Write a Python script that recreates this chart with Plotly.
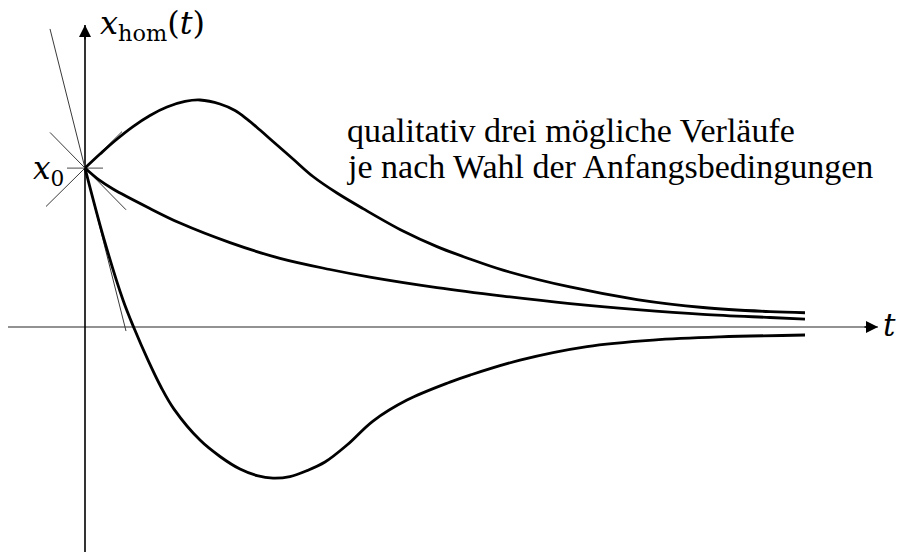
import plotly.graph_objects as go

# Three qualitative solution curves x_hom(t) starting at x0 = 1
t_upper = [0.0, 0.15, 0.30, 0.48, 0.65, 0.82, 1.00, 1.15, 1.35, 1.50, 1.62, 1.75, 1.88, 2.08, 2.28,
           2.52, 2.78, 3.18, 3.52, 3.85, 4.18, 4.85, 5.52, 6.18, 6.85, 7.20]
x_upper = [1.0, 1.088, 1.172, 1.261, 1.331, 1.384, 1.419, 1.428, 1.403, 1.362, 1.308, 1.239, 1.167, 1.057, 0.947,
           0.843, 0.745, 0.604, 0.506, 0.428, 0.358, 0.252, 0.173, 0.123, 0.097, 0.090]

t_middle = [0.0, 0.14, 0.28, 0.62, 0.95, 1.45, 1.95, 2.45, 2.85, 3.52, 4.18, 4.85, 5.52, 6.18, 6.85, 7.20]
x_middle = [1.0, 0.925, 0.868, 0.755, 0.654, 0.531, 0.432, 0.362, 0.314, 0.248, 0.195, 0.148, 0.110, 0.080, 0.060, 0.050]

t_lower = [0.0, 0.19, 0.38, 0.49, 0.63, 0.76, 0.89, 1.15, 1.35, 1.55, 1.72, 1.88, 2.05, 2.22, 2.40, 2.62,
           2.88, 3.22, 3.65, 3.85, 4.35, 5.02, 5.68, 6.35, 7.20]
x_lower = [1.0, 0.553, 0.170, -0.006, -0.208, -0.377, -0.516, -0.711, -0.814, -0.893, -0.934, -0.950, -0.940,
           -0.903, -0.849, -0.742, -0.591, -0.459, -0.346, -0.302, -0.208, -0.123, -0.082, -0.062, -0.050]

# Initial value and slopes of the tangent lines through (0, x0)
x0 = 1.0
tangent_slopes = [-2.50, 0.62, -0.64]
tangent_t_range = [[-0.35, 0.41], [-0.39, 0.37], [-0.35, 0.41]]

# Axis extents
t_axis = [-0.77, 7.93]
x_axis = [-1.415, 1.899]

fig = go.Figure()

# horizontal t axis (grey) and vertical axis (black)
fig.add_trace(go.Scatter(x=t_axis, y=[0, 0], mode="lines",
                         line=dict(color="#6e6e6e", width=1.5), hoverinfo="skip"))
fig.add_trace(go.Scatter(x=[0, 0], y=x_axis, mode="lines",
                         line=dict(color="black", width=1.6), hoverinfo="skip"))

# tangent lines through the starting point
for m, (ta, tb) in zip(tangent_slopes, tangent_t_range):
    fig.add_trace(go.Scatter(x=[ta, tb], y=[x0 + m * ta, x0 + m * tb], mode="lines",
                             line=dict(color="#3a3a3a", width=1), hoverinfo="skip"))

# tick mark at x0
fig.add_trace(go.Scatter(x=[-0.18, 0.18], y=[x0, x0], mode="lines",
                         line=dict(color="#6e6e6e", width=1.2), hoverinfo="skip"))

# solution curves
for tt, xx in [(t_upper, x_upper), (t_middle, x_middle), (t_lower, x_lower)]:
    fig.add_trace(go.Scatter(x=tt, y=xx, mode="lines",
                             line=dict(color="black", width=2.8, shape="spline", smoothing=1.0),
                             hoverinfo="skip"))

math_font = "DejaVu Serif"
text_font = "Liberation Serif"

annotations = [
    # arrow heads
    dict(x=t_axis[1], y=0, ax=t_axis[1] - 0.15, ay=0, xref="x", yref="y", axref="x", ayref="y",
         showarrow=True, arrowhead=2, arrowsize=1.6, arrowwidth=1.5, arrowcolor="black", text=""),
    dict(x=0, y=x_axis[1], ax=0, ay=x_axis[1] - 0.1, xref="x", yref="y", axref="x", ayref="y",
         showarrow=True, arrowhead=2, arrowsize=1.6, arrowwidth=1.5, arrowcolor="black", text=""),
    # axis labels
    dict(x=0.13, y=1.90, xref="x", yref="y", xanchor="left", yanchor="middle", showarrow=False,
         text="<i>x</i><sub>hom</sub>(<i>t</i>)", font=dict(family=math_font, size=32, color="black")),
    dict(x=7.96, y=0.01, xref="x", yref="y", xanchor="left", yanchor="middle", showarrow=False,
         text="<i>t</i>", font=dict(family=math_font, size=31, color="black")),
    dict(x=-0.19, y=0.985, xref="x", yref="y", xanchor="right", yanchor="middle", showarrow=False,
         text="<i>x</i><sub>0</sub>", font=dict(family=math_font, size=31, color="black")),
    # description
    dict(x=2.60, y=1.239, xref="x", yref="y", xanchor="left", yanchor="middle", showarrow=False,
         text="qualitativ drei mögliche Verläufe", font=dict(family=text_font, size=34, color="black")),
    dict(x=2.60, y=1.01, xref="x", yref="y", xanchor="left", yanchor="middle", showarrow=False,
         text="je nach Wahl der Anfangsbedingungen", font=dict(family=text_font, size=34, color="black")),
]

fig.update_layout(
    width=908, height=553,
    margin=dict(l=0, r=0, t=0, b=0),
    paper_bgcolor="white", plot_bgcolor="white",
    showlegend=False,
    annotations=annotations,
    xaxis=dict(range=[-0.85, 8.23], visible=False, fixedrange=True),
    yaxis=dict(range=[-1.421, 2.057], visible=False, fixedrange=True),
)

fig.write_html("out.html")
